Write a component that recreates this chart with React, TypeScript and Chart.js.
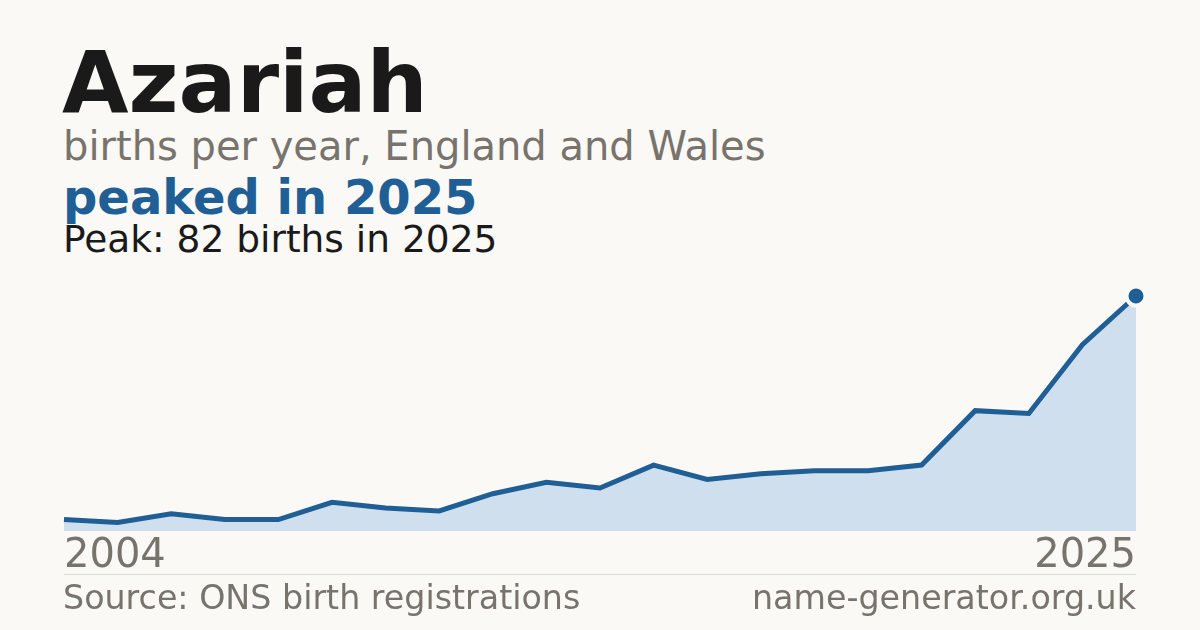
import React, { useEffect, useRef } from "react";
import { Chart, registerables } from "chart.js";

Chart.register(...registerables);

// years with published counts (one early year below the reporting threshold is absent)
const years = [
  "2004", "2005", "2006", "2007", "2009", "2010", "2011", "2012", "2013", "2014", "2015",
  "2016", "2017", "2018", "2019", "2020", "2021", "2022", "2023", "2024", "2025",
];
const births = [4, 3, 6, 4, 4, 10, 8, 7, 13, 17, 15, 23, 18, 20, 21, 21, 23, 42, 41, 65, 82];
const yMax = 82;

const BG = "#faf9f5";
const BLUE = "#1f5f96";
const FILL = "#cfdfee";
const GREY = "#78736c";
const INK = "#1a1a1a";
const FONT = '"DejaVu Sans", sans-serif';

const App: React.FC = () => {
  const chartRef = useRef<HTMLCanvasElement | null>(null);

  useEffect(() => {
    document.body.style.margin = "0";
    if (!chartRef.current) return;
    const ctx = chartRef.current.getContext("2d");
    if (!ctx) return;

    const last = births.length - 1;

    const myChart = new Chart(ctx, {
      type: "line",
      data: {
        labels: years,
        datasets: [
          {
            data: births,
            borderColor: BLUE,
            borderWidth: 5,
            backgroundColor: FILL,
            fill: "origin",
            tension: 0,
            clip: false,
            pointRadius: (c: any) => (c.dataIndex === last ? 9.5 : 0),
            pointHoverRadius: 0,
            pointBackgroundColor: BLUE,
            pointBorderColor: BG,
            pointBorderWidth: 4,
          },
        ],
      },
      options: {
        responsive: false,
        animation: false,
        layout: { padding: { left: 20, right: 20, top: 26, bottom: 0 } },
        plugins: {
          legend: { display: false },
          tooltip: { enabled: false },
        },
        scales: {
          x: {
            offset: false,
            grid: { display: false, drawTicks: false },
            border: { display: false },
            ticks: {
              autoSkip: false,
              maxRotation: 0,
              align: "inner",
              padding: 2,
              color: GREY,
              font: { family: FONT, size: 40 },
              callback: (_v: any, i: number) =>
                i === 0 || i === last ? years[i] : "",
            },
          },
          y: {
            display: false,
            min: 0,
            max: yMax,
          },
        },
      },
    });

    return () => {
      myChart.destroy();
    };
  }, []);

  const text = (size: number, baseline: number, extra: React.CSSProperties) => ({
    position: "absolute" as const,
    top: baseline - 0.846 * size,
    fontFamily: FONT,
    fontSize: size,
    lineHeight: 1,
    whiteSpace: "nowrap" as const,
    ...extra,
  });

  return (
    <div
      style={{
        position: "fixed",
        left: 0,
        top: 0,
        width: 1200,
        height: 630,
        background: BG,
        overflow: "hidden",
      }}
    >
      <div style={text(86, 112, { left: 62, fontWeight: "bold", color: INK })}>Azariah</div>
      <div style={text(40, 160, { left: 63, color: GREY })}>
        births per year, England and Wales
      </div>
      <div style={text(48, 214, { left: 63, fontWeight: "bold", color: BLUE })}>
        peaked in 2025
      </div>
      <div style={text(37.5, 253, { left: 63, color: INK })}>Peak: 82 births in 2025</div>

      <canvas
        ref={chartRef}
        width={1112}
        height={313}
        style={{ position: "absolute", left: 44, top: 270 }}
      />

      <div
        style={{
          position: "absolute",
          left: 64,
          top: 574,
          width: 1072,
          height: 1,
          background: "#dddbd5",
        }}
      />
      <div style={text(33.3, 609, { left: 63, color: GREY })}>Source: ONS birth registrations</div>
      <div style={text(33.3, 609, { right: 64, color: GREY })}>name-generator.org.uk</div>
    </div>
  );
};

export default App;
